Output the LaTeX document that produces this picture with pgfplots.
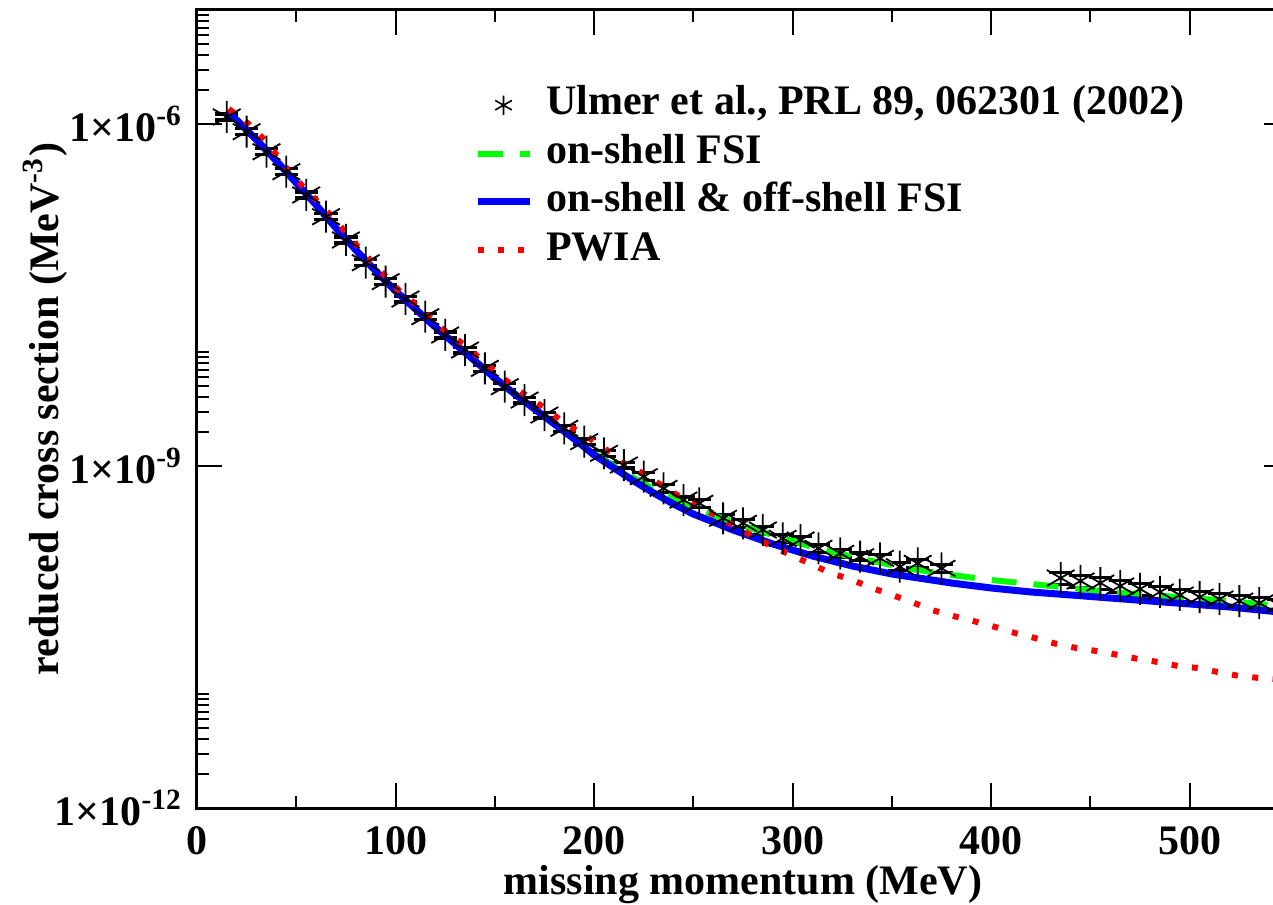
\documentclass[border=0pt]{standalone}
\usepackage{fontspec}
\setmainfont{Liberation Serif}
\usepackage{pgfplots}
\pgfplotsset{compat=1.18}
\definecolor{xgreen}{RGB}{0,255,0}
\definecolor{xblue}{RGB}{0,0,255}
\definecolor{xred}{RGB}{255,0,0}
\pgfplotsset{
  lineleg/.style={legend image code/.code={\draw[##1] (0pt,1pt) -- (13pt,1pt);}},
  astleg/.style={legend image code/.code={%
    \path[draw=none] (0pt,0pt) -- (13pt,0pt);
    \path[draw=none] plot[mark=asterisk, mark size=2.4pt, mark options={draw=black, line width=0.4pt}] coordinates {(6.5pt,1pt)};}},
}
\begin{document}
\begin{tikzpicture}
\begin{axis}[
  at={(0,0)}, anchor=south west,
  scale only axis, width=273pt, height=199.5pt,
  xmin=0, xmax=550, ymode=log, ymin=1e-12, ymax=1e-5,
  xtick={0,100,200,300,400,500}, xticklabels={0,100,200,300,400,500},
  minor xtick={50,150,250,350,450,550},
  ytick={1e-12,1e-9,1e-6},
  yticklabels={1×10\textsuperscript{-12},1×10\textsuperscript{-9},1×10\textsuperscript{-6}},
  minor ytick={2e-12,3e-12,4e-12,5e-12,6e-12,7e-12,8e-12,9e-12,1e-11,2e-9,3e-9,4e-9,5e-9,6e-9,7e-9,8e-9,9e-9,1e-8,2e-6,3e-6,4e-6,5e-6,6e-6,7e-6,8e-6,9e-6},
  tick align=inside, tick pos=both,
  major tick length=6.25pt, minor tick length=3pt,
  tick style={black, line width=0.5pt},
  axis line style={line width=0.75pt},
  tick label style={font=\fontsize{10.5}{12}\selectfont\bfseries},
  xticklabel style={yshift=-1.2pt},
  label style={font=\fontsize{10.5}{12}\selectfont\bfseries},
  xlabel={missing momentum (MeV)},
  ylabel={reduced cross section (MeV\textsuperscript{-3})},
  xlabel style={at={(axis description cs:0.5,-0.0965)}, anchor=center},
  ylabel style={at={(axis description cs:-0.139,0.5)}, anchor=center},
  legend cell align=left,
  legend style={at={(axis description cs:0.2537,0.906)}, anchor=north west,
    draw=none, fill=none, inner sep=0pt, outer sep=0pt, row sep=0pt, column sep=3.3pt,
    font=\fontsize{10.5}{12}\selectfont\bfseries,
    nodes={inner sep=0pt, text height=7.5pt, text depth=4.6pt}},
]
\addplot[black, only marks, mark=asterisk, mark size=4pt, line width=0.45pt, astleg,
  error bars/.cd, y dir=both, y explicit relative,
  error mark options={rotate=90, mark size=2.9pt, line width=0.8pt}]
  coordinates {
  (15,1.152e-6) +- (0,0.06) (25,8.56e-7) +- (0,0.06) (35,5.71e-7) +- (0,0.06)
  (45,3.815e-7) +- (0,0.06) (55,2.384e-7) +- (0,0.06) (65,1.537e-7) +- (0,0.06)
  (75,9.61e-8) +- (0,0.06) (85,6.07e-8) +- (0,0.06) (95,4.14e-8) +- (0,0.06)
  (105,2.917e-8) +- (0,0.06) (115,2.04e-8) +- (0,0.06) (125,1.41e-8) +- (0,0.06)
  (135,1.041e-8) +- (0,0.06) (145,7.19e-9) +- (0,0.06) (155,4.96e-9) +- (0,0.06)
  (165,3.79e-9) +- (0,0.06) (175,2.80e-9) +- (0,0.06) (185,2.14e-9) +- (0,0.06)
  (195,1.634e-9) +- (0,0.06) (205,1.292e-9) +- (0,0.06) (215,1.02e-9) +- (0,0.06)
  (225,8.06e-10) +- (0,0.08) (235,6.37e-10) +- (0,0.08) (245,5.03e-10) +- (0,0.08)
  (253,4.71e-10) +- (0,0.08) (265,3.48e-10) +- (0,0.08) (275,3.144e-10) +- (0,0.08)
  (285,2.746e-10) +- (0,0.08) (295,2.32e-10) +- (0,0.08) (304,2.243e-10) +- (0,0.08)
  (313,1.897e-10) +- (0,0.08) (324,1.714e-10) +- (0,0.08) (334,1.60e-10) +- (0,0.08)
  (344,1.55e-10) +- (0,0.08) (354,1.308e-10) +- (0,0.08) (363,1.40e-10) +- (0,0.08)
  (375,1.266e-10) +- (0,0.08)
  (435,1.041e-10) +- (0,0.12) (445,9.80e-11) +- (0,0.12) (455,9.41e-11) +- (0,0.12)
  (465,8.86e-11) +- (0,0.12) (475,8.34e-11) +- (0,0.12) (485,7.85e-11) +- (0,0.12)
  (495,7.39e-11) +- (0,0.12) (505,7.09e-11) +- (0,0.12) (515,6.81e-11) +- (0,0.12)
  (525,6.54e-11) +- (0,0.12) (535,6.28e-11) +- (0,0.12) (545,6.04e-11) +- (0,0.12)
  };
\addlegendentry{Ulmer et al., PRL 89, 062301 (2002)}
\addplot[xgreen, line width=1.5pt, dash pattern=on 6.25pt off 4.25pt, lineleg]
  coordinates {
  (15,1.274e-6) (20,1.084e-6) (30,7.24e-7) (40,4.74e-7) (50,3.04e-7) (60,1.948e-7)
  (70,1.224e-7) (80,7.85e-8) (90,5.13e-8) (100,3.43e-8) (110,2.384e-8) (120,1.657e-8)
  (130,1.176e-8) (140,8.34e-9) (150,5.91e-9) (160,4.28e-9) (170,3.16e-9) (180,2.336e-9)
  (190,1.725e-9) (200,1.30e-9) (210,1.0e-9) (220,7.85e-10) (230,6.28e-10) (240,5.24e-10)
  (250,4.37e-10) (260,3.72e-10) (270,3.23e-10) (280,2.80e-10) (290,2.48e-10) (300,2.20e-10)
  (310,1.948e-10) (320,1.761e-10) (330,1.591e-10) (340,1.468e-10) (350,1.354e-10)
  (360,1.249e-10) (370,1.176e-10) (380,1.106e-10) (400,1.0e-10) (420,9.23e-11)
  (440,8.51e-11) (460,7.85e-11) (480,7.39e-11) (500,6.95e-11) (520,6.54e-11)
  (540,6.04e-11) (550,5.80e-11)
  };
\addlegendentry{on-shell FSI}
\addplot[xblue, line width=1.75pt, lineleg]
  coordinates {
  (15,1.274e-6) (20,1.084e-6) (30,7.24e-7) (40,4.74e-7) (50,3.04e-7) (60,1.948e-7)
  (70,1.224e-7) (80,7.85e-8) (90,5.13e-8) (100,3.43e-8) (110,2.384e-8) (120,1.657e-8)
  (130,1.176e-8) (140,8.34e-9) (150,5.91e-9) (160,4.28e-9) (170,3.16e-9) (180,2.336e-9)
  (190,1.725e-9) (200,1.249e-9) (210,9.61e-10) (220,7.39e-10) (230,5.80e-10) (240,4.64e-10)
  (250,3.79e-10) (260,3.23e-10) (270,2.746e-10) (280,2.384e-10) (290,2.07e-10) (300,1.834e-10)
  (310,1.624e-10) (320,1.468e-10) (330,1.327e-10) (340,1.224e-10) (350,1.129e-10)
  (360,1.062e-10) (370,1.0e-10) (380,9.41e-11) (400,8.51e-11) (420,7.85e-11)
  (440,7.39e-11) (460,6.95e-11) (480,6.54e-11) (500,6.16e-11) (520,5.80e-11)
  (540,5.35e-11) (550,5.13e-11)
  };
\addlegendentry{on-shell \& off-shell FSI}
\addplot[xred, line width=1.5pt, dash pattern=on 1.5pt off 3.6pt, lineleg]
  coordinates {
  (16,1.354e-6) (26,1.0e-6) (36,6.68e-7) (45,4.11e-7) (54,2.746e-7) (64,1.834e-7)
  (73,1.224e-7) (82,8.01e-8) (92,5.24e-8) (102,3.43e-8) (113,2.384e-8) (123,1.624e-8)
  (134,1.176e-8) (144,8.34e-9) (154,5.91e-9) (164,4.37e-9) (175,3.23e-9) (185,2.384e-9)
  (196,1.834e-9) (205,1.439e-9) (215,1.062e-9) (226,8.34e-10) (236,6.41e-10) (246,5.03e-10)
  (257,4.03e-10) (267,3.23e-10) (277,2.584e-10) (288,2.03e-10) (298,1.691e-10) (308,1.41e-10)
  (319,1.152e-10) (330,1.0e-10) (340,8.51e-11) (350,7.39e-11) (360,6.41e-11) (370,5.46e-11)
  (381,4.83e-11) (391,4.37e-11) (402,3.87e-11) (412,3.43e-11) (422,3.10e-11) (433,2.746e-11)
  (443,2.53e-11) (453,2.384e-11) (464,2.20e-11) (474,2.03e-11) (484,1.909e-11) (494,1.761e-11)
  (504,1.691e-11) (514,1.56e-11) (525,1.439e-11) (535,1.382e-11) (550,1.327e-11)
  };
\addlegendentry{PWIA}
\end{axis}
\pgfresetboundingbox
\useasboundingbox (-49.25pt,-24.25pt) rectangle (269pt,202pt);
\end{tikzpicture}
\end{document}
